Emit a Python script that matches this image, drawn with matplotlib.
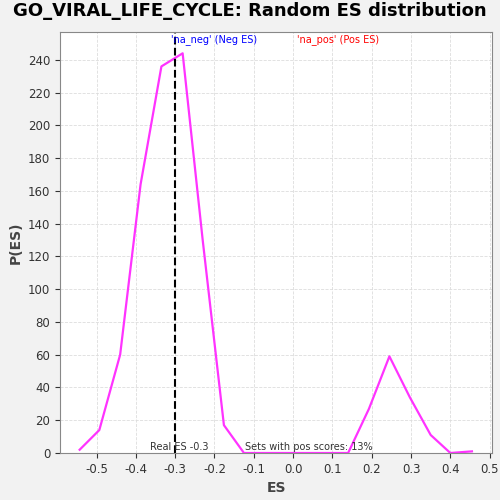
import matplotlib
matplotlib.use("Agg")
import matplotlib.pyplot as plt

es = [-0.543, -0.493, -0.44, -0.388, -0.335, -0.281, -0.23, -0.176, -0.125, -0.07, -0.02, 0.03, 0.08, 0.14, 0.193, 0.245, 0.297, 0.35, 0.40, 0.455]
pes = [2, 14, 60, 164, 236, 244, 130, 17, 0, 0, 0, 0, 0, 0, 27, 59, 34, 11, 0, 1]
real_es = -0.3

fig = plt.figure(figsize=(5, 5), dpi=100, facecolor="#f2f2f2")
ax = fig.add_axes([0.12, 0.094, 0.864, 0.842])
ax.set_facecolor("white")
ax.plot(es, pes, color="#ff33ff", lw=1.6)
ax.axvline(real_es, color="black", ls="--", lw=1.5)
ax.set_xlim(-0.593, 0.506)
ax.set_ylim(0, 257)
ax.set_xticks([-0.5, -0.4, -0.3, -0.2, -0.1, 0, 0.1, 0.2, 0.3, 0.4, 0.5])
ax.set_xticklabels(["-0.5", "-0.4", "-0.3", "-0.2", "-0.1", "0.0", "0.1", "0.2", "0.3", "0.4", "0.5"])
ax.set_yticks(range(0, 241, 20))
ax.tick_params(labelsize=8.5, colors="#333333")
ax.grid(True, color="#dddddd", ls="--", lw=0.6)
for s in ax.spines.values():
    s.set_color("#888888")
ax.set_xlabel("ES", fontsize=10, fontweight="bold", color="#444444")
ax.set_ylabel("P(ES)", fontsize=10, fontweight="bold", color="#444444")
fig.suptitle("GO_VIRAL_LIFE_CYCLE: Random ES distribution", fontsize=13, fontweight="bold", x=0.5, y=0.995)
ax.text(-0.31, 249, "'na_neg' (Neg ES)", color="blue", fontsize=7, va="bottom")
ax.text(0.01, 249, "'na_pos' (Pos ES)", color="red", fontsize=7, va="bottom")
ax.text(-0.29, 0.5, "Real ES -0.3", color="#333333", fontsize=7, ha="center", va="bottom")
ax.text(0.04, 0.5, "Sets with pos scores: 13%", color="#333333", fontsize=7, ha="center", va="bottom")
fig.savefig("out.png", dpi=100, facecolor=fig.get_facecolor())
